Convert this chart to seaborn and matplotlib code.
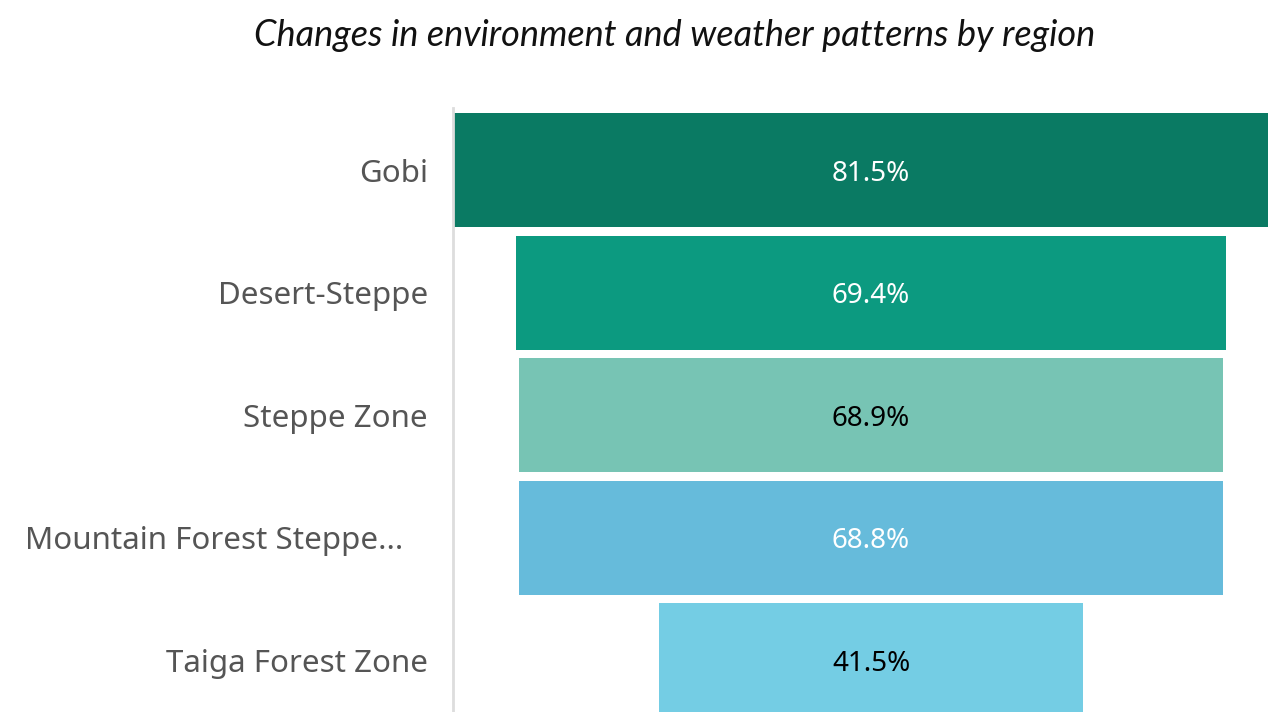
import matplotlib
matplotlib.use("Agg")
import matplotlib.pyplot as plt
import seaborn as sns
import pandas as pd

regions = ["Gobi", "Desert-Steppe", "Steppe Zone", "Mountain Forest Steppe...", "Taiga Forest Zone"]
values = [81.5, 69.4, 68.9, 68.8, 41.5]
colors = ["#0a7a63", "#0c9a80", "#77c4b4", "#66bbdb", "#74cde4"]
text_colors = ["white", "white", "black", "white", "black"]

sns.set_theme(style="white")
plt.rcParams['font.family'] = ['Noto Sans', 'DejaVu Sans']

df = pd.DataFrame({"region": regions, "value": values})

fig = plt.figure(figsize=(12.68, 7.12), dpi=100)
ax = fig.add_axes([453 / 1268, 0, 1 - 453 / 1268, 1 - 108 / 712])

sns.barplot(data=df, x="value", y="region", orient="h",
            palette=colors, hue="region", legend=False, width=0.93,
            saturation=1, ax=ax, linewidth=0)

# center each bar (funnel)
for p in ax.patches:
    w = p.get_width()
    p.set_x(-w / 2)

for i, (v, tc) in enumerate(zip(values, text_colors)):
    ax.text(0, i, f"{v}%", ha="center", va="center_baseline", color=tc, fontsize=20)

ax.set_xlim(-40.86, 38.8)
ax.set_ylim(4.42, -0.506)
ax.set_xlabel("")
ax.set_ylabel("")
ax.set_xticks([])
ax.set_yticks(range(len(regions)))
ax.set_yticklabels([r + ("   " if r.endswith("...") else "") for r in regions])
ax.tick_params(axis="y", length=0, pad=18, labelsize=22.5, labelcolor="#555555")
for lbl in ax.get_yticklabels():
    lbl.set_verticalalignment("center_baseline")
for s in ["top", "right", "bottom"]:
    ax.spines[s].set_visible(False)
ax.spines["left"].set_color("#dddddd")
ax.spines["left"].set_linewidth(2)

fig.text(0.532, 1 - 33 / 712, "Changes in environment and weather patterns by region",
         ha="center", va="center_baseline", fontsize=26, style="italic",
         family=["Lato", "DejaVu Sans"], color="#111111")

fig.savefig("out.png", dpi=100)
